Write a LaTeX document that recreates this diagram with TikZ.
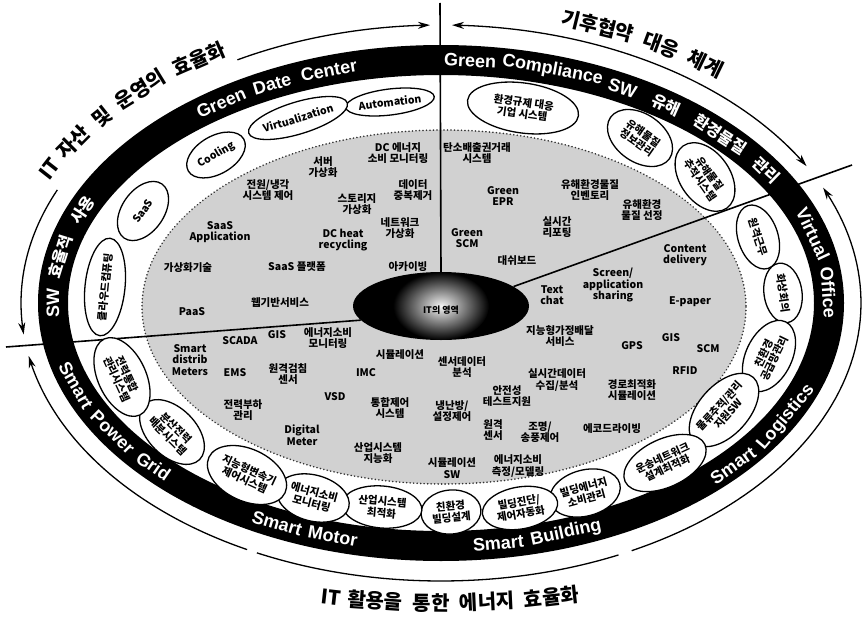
\documentclass[tikz,border=0pt]{standalone}
\usepackage{fontspec}
\setmainfont{Liberation Sans}
\newfontfamily\kr{Noto Sans CJK KR}
\usetikzlibrary{shapes.geometric,arrows.meta}

% word on an ellipse round (441,303), read clockwise / counter-clockwise
\newcommand\cwword[6]{%
  \pgfmathsetmacro\wx{441+#3*cos(#2)}%
  \pgfmathsetmacro\wy{303-#4*sin(#2)}%
  \pgfmathsetmacro\wr{atan2(-#4*cos(#2),#3*sin(#2))}%
  \node[#5,rotate=\wr] (#1) at (\wx,\wy) {#6};}
\newcommand\ccwword[6]{%
  \pgfmathsetmacro\wx{441+#3*cos(#2)}%
  \pgfmathsetmacro\wy{303-#4*sin(#2)}%
  \pgfmathsetmacro\wr{atan2(#4*cos(#2),-#3*sin(#2))}%
  \node[#5,rotate=\wr] (#1) at (\wx,\wy) {#6};}
\newcommand\outerarc[3]{%
  \draw[#3] plot[domain=#1:#2, samples=60] ({441+420*cos(\x)},{303-278*sin(\x)});}

\begin{document}
\begin{tikzpicture}[x=1pt,y=-1pt,
    >={Stealth[length=12pt,width=7pt]},
    field/.style={fill=black!18, draw=black!80, line width=1.7pt, dash pattern=on 0.1pt off 3.4pt, line cap=round},
    bandtext/.style={text=white, inner sep=0pt, font=\fontsize{18}{18}\selectfont\bfseries},
    bandkr/.style={text=white, inner sep=0pt, font=\kr\fontsize{16}{16}\selectfont\bfseries},
    outerkr/.style={inner sep=0pt, font=\kr\fontsize{20}{20}\selectfont\bfseries},
    bubble/.style={ellipse, draw, fill=white, line width=1.3pt, inner sep=0pt, align=center, font=\kr\fontsize{10.5}{11.5}\selectfont\bfseries},
    item/.style={align=center, inner sep=0.5pt, font=\kr\fontsize{10.5}{11.5}\selectfont\bfseries},
    divider/.style={line width=1.6pt},
    arcline/.style={line width=1.3pt}
]
\useasboundingbox (0,0) rectangle (865,618);

% dotted field
\draw[field] (444,307) ellipse [x radius=302, y radius=177];

% black band
\fill[black, even odd rule] (441,303) ellipse [x radius=403, y radius=258]
                            (441,303) ellipse [x radius=373, y radius=228];

% centre
\node[ellipse, fill=black, inner sep=0pt, minimum width=176pt, minimum height=68pt] (core) at (441,306) {};
\shade[inner color=black!4, outer color=black] (441,306) ellipse [x radius=48, y radius=34];
\node[font=\kr\fontsize{9}{9}\selectfont\bfseries, inner sep=0pt] (coretext) at (441,310) {IT의 영역};

% dividers
\coordinate (vtop) at (440,3);
\coordinate (ltip) at (6,347);
\coordinate (rtip) at (852,165);
\draw[divider] (vtop) -- (core.north);
\draw[divider] (ltip) -- (core.190);
\draw[divider] (rtip) -- (core.15);

% outer arrows
\outerarc{186.5}{156}{arcline,<-}
\outerarc{119}{91.5}{arcline,->}
\outerarc{88.5}{29.5}{arcline,<->}
\outerarc{191}{242.5}{arcline,<-}
\outerarc{244}{295}{arcline}
\outerarc{297}{384.5}{arcline,->}

% outer labels
\cwword{o1}{152.6}{441}{292}{outerkr}{IT}
\cwword{o2}{146.6}{441}{292}{outerkr}{자산}
\cwword{o3}{140.3}{441}{292}{outerkr}{및}
\cwword{o4}{133}{441}{292}{outerkr}{운영의}
\cwword{o5}{123.3}{441}{292}{outerkr}{효율화}
\cwword{o6}{69.5}{448}{296}{outerkr}{기후협약}
\cwword{o7}{60.5}{448}{296}{outerkr}{대응}
\cwword{o8}{53.8}{448}{296}{outerkr}{체계}
\ccwword{o9}{258.5}{549}{300}{outerkr}{IT}
\ccwword{o10}{263.1}{549}{300}{outerkr}{활용을}
\ccwword{o11}{269}{549}{300}{outerkr}{통한}
\ccwword{o12}{274.8}{549}{300}{outerkr}{에너지}
\ccwword{o13}{281.6}{549}{300}{outerkr}{효율화}

% band labels
\cwword{w1}{180}{388}{243}{bandtext}{SW}
\cwword{w2}{169}{388}{243}{bandkr}{효율적}
\cwword{w3}{157.5}{388}{243}{bandkr}{사용}
\cwword{w4}{124.5}{388}{243}{bandtext}{Green}
\cwword{w5}{115.8}{388}{243}{bandtext}{Date}
\cwword{w6}{106.8}{388}{243}{bandtext}{Center}
\cwword{w7}{85.7}{388}{243}{bandtext}{Green}
\cwword{w8}{73.3}{388}{243}{bandtext}{Compliance}
\cwword{w9}{62.1}{388}{243}{bandtext}{SW}
\cwword{w10}{54.5}{388}{243}{bandkr}{유해}
\cwword{w11}{44}{388}{243}{bandkr}{환경물질}
\cwword{w12}{33}{388}{243}{bandkr}{관리}
\cwword{w13}{16.5}{388}{243}{bandtext}{Virtual}
\cwword{w14}{2.5}{388}{243}{bandtext}{Office}
\ccwword{w15}{199.8}{388}{243}{bandtext}{Smart}
\ccwword{w16}{212.2}{388}{243}{bandtext}{Power}
\ccwword{w17}{222.2}{388}{243}{bandtext}{Grid}
\ccwword{w18}{245}{388}{243}{bandtext}{Smart}
\ccwword{w19}{253.8}{388}{243}{bandtext}{Motor}
\ccwword{w20}{278.5}{388}{243}{bandtext}{Smart}
\ccwword{w21}{288.8}{388}{243}{bandtext}{Building}
\ccwword{w22}{318.5}{390}{245}{bandtext}{Smart}
\ccwword{w23}{332.2}{390}{245}{bandtext}{Logistics}

% bubbles along the band
\foreach \x/\y/\r/\w/\h/\t [count=\i] in {
  390/102/7/72/26/{Automation},
  298/118/17/86/32/{Virtualization},
  216/155/30/64/38/{Cooling},
  143/211/55/66/42/{SaaS},
  105/287/84/98/40/{클라우드컴퓨팅},
  523/108/-8/112/50/{환경규제 대응\\기업 시스템},
  640/138/-35/72/48/{유해물질\\정보관리},
  705/177/-55/76/50/{유해물질\\추적시스템},
  758/237/-72/66/40/{원격근무},
  783/293/-82/60/38/{화상회의},
  769/356/64/76/46/{친환경\\공급망관리},
  724/410/48/84/50/{물류추적/관리\\지원SW},
  665/463/25/88/48/{운송네트워크\\설계최적화},
  585/493/15/72/46/{빌딩에너지\\소비관리},
  520/508/10/76/42/{빌딩진단/\\제어자동화},
  451/512/5/60/44/{친환경\\빌딩설계},
  382/507/-5/80/42/{산업시스템\\최적화},
  313/498/-15/74/46/{에너지소비\\모니터링},
  247/475/-25/84/52/{지능형변속기\\제어시스템},
  172/432/-45/78/48/{분산전력\\배분시스템},
  122/377/-65/84/48/{전력통합\\관리시스템}}
  \node[bubble, rotate=\r, minimum width=\w pt, minimum height=\h pt] (b\i) at (\x,\y) {\t};

% items in the field
\foreach \x/\y/\t [count=\i] in {
  323/167/{서버\\가상화}, 398/153/{DC 에너지\\소비 모니터링},
  268/190/{전원/냉각\\시스템 제어}, 357/204/{스토리지\\가상화},
  413/190/{데이터\\중복제거}, 220/232/{SaaS\\Application},
  343/240/{DC heat\\recycling}, 400/228/{네트워크\\가상화},
  188/268/{가상화기술}, 297/267/{SaaS 플랫폼}, 408/267/{아카이빙},
  280/303/{웹기반서비스}, 192/312/{PaaS},
  477/153/{탄소배출권거래\\시스템}, 503/196/{Green\\EPR},
  590/190/{유해환경물질\\인벤토리}, 642/210/{유해환경\\물질 선정},
  557/227/{실시간\\리포팅}, 467/238/{Green\\SCM}, 517/261/{대쉬보드},
  685/255/{Content\\delivery}, 613/285/{Screen/\\application\\sharing},
  552/295/{Text\\chat}, 690/302/{E-paper},
  190/360/{Smart\\distrib\\Meters}, 240/341/{SCADA}, 277/335/{GIS},
  328/338/{에너지소비\\모니터링}, 400/355/{시뮬레이션}, 235/373/{EMS},
  288/374/{원격검침\\센서}, 366/373/{IMC}, 335/397/{VSD},
  243/410/{전력부하\\관리}, 390/408/{통합제어\\시스템},
  302/435/{Digital\\Meter}, 378/453/{산업시스템\\지능화},
  462/367/{센서데이터\\분석}, 452/411/{냉난방/\\설정제어},
  507/396/{안전성\\테스트지원}, 557/380/{실시간데이터\\수집/분석},
  493/430/{원격\\센서}, 540/432/{조명/\\송풍제어}, 612/429/{에코드라이빙},
  452/468/{시뮬레이션\\SW}, 518/466/{에너지소비\\측정/모델링},
  560/336/{지능형가정배달\\서비스}, 632/346/{GPS}, 671/338/{GIS},
  708/349/{SCM}, 685/371/{RFID}, 632/390/{경로최적화\\시뮬레이션}}
  \node[item] (f\i) at (\x,\y) {\t};
\end{tikzpicture}
\end{document}
